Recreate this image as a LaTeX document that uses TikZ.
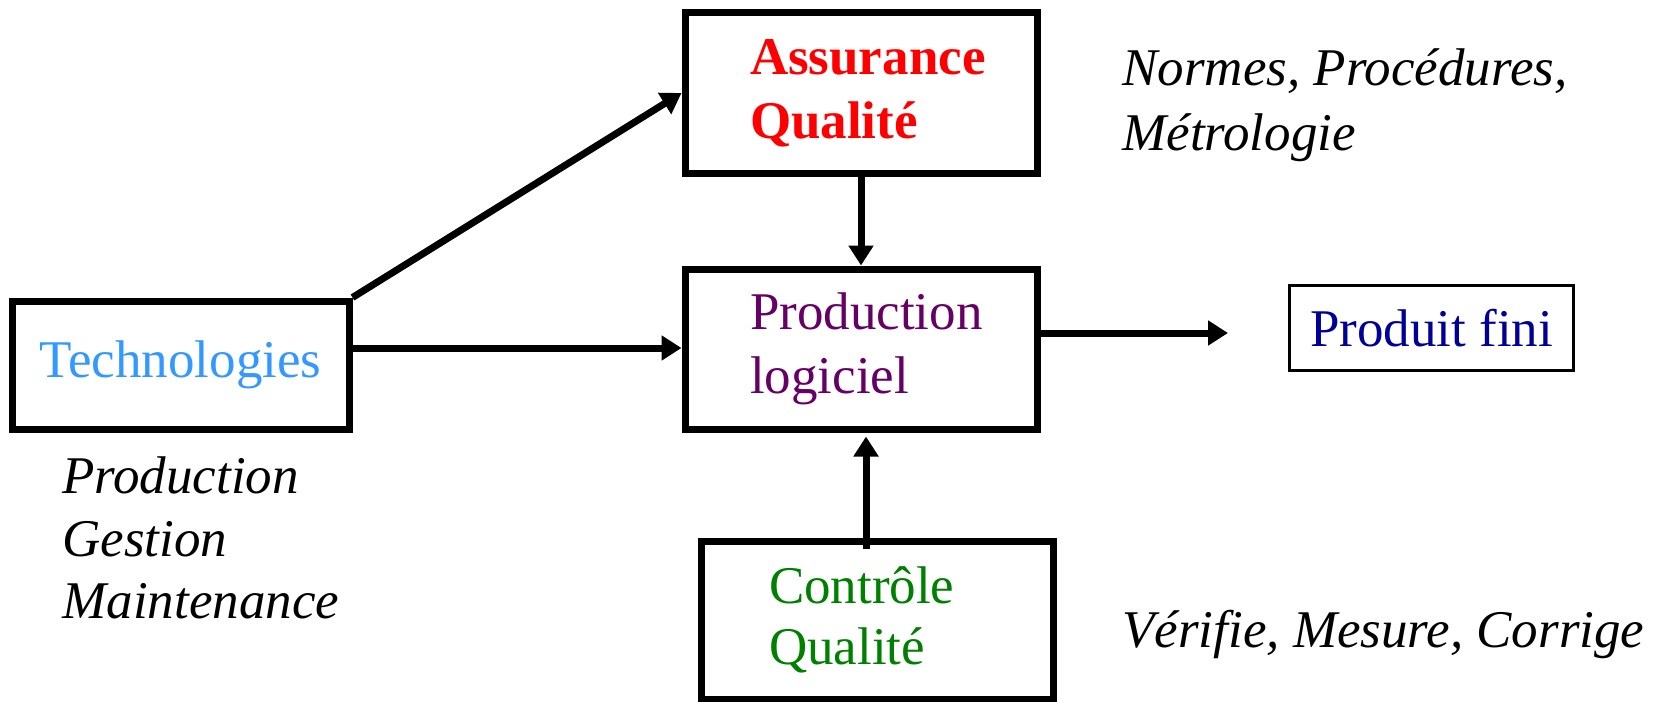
\documentclass[tikz,border=0pt]{standalone}
\usepackage{fontspec}
\setmainfont{Liberation Serif}
\usetikzlibrary{arrows.meta,calc}
\hyphenpenalty=10000
\exhyphenpenalty=10000
\definecolor{techblue}{HTML}{3399FF}
\definecolor{aqred}{HTML}{FF0000}
\definecolor{prodpurple}{HTML}{660066}
\definecolor{finiblue}{HTML}{000099}
\definecolor{cqgreen}{HTML}{008000}
\begin{document}
\begin{tikzpicture}[x=0.5pt,y=-0.5pt,
  txt/.style={font=\fontsize{26.5}{32}\selectfont},
  box/.style={txt, draw=black, line width=3.5pt, fill=white, inner ysep=0pt},
  bigbox/.style={box, minimum height=80pt, inner xsep=32.5pt, text width=111pt, align=left},
  lbl/.style={anchor=base west, inner sep=0pt, font=\fontsize{26.5}{32}\selectfont\itshape},
  arr/.style={line width=3.5pt, -{Triangle[length=10pt,width=12pt]}},
]
\useasboundingbox[fill=white] (0,0) rectangle (1664,701);

% boxes
\node[box, minimum width=168.5pt, minimum height=64pt, text=techblue] (tech) at (180.5,365) {Technologies};
\node[bigbox, text=aqred, font=\fontsize{26.5}{32}\selectfont\bfseries] (assur) at (861,93) {Assurance\\Qualité};
\node[bigbox, text=prodpurple] (prod) at (861,349) {Production\\logiciel};
\node[bigbox, minimum height=79pt, inner xsep=34pt, text width=108pt, text=cqgreen,
      font=\fontsize{26.5}{30.5}\selectfont] (ctrl) at (877,620) {Contrôle\\Qualité};
\node[box, line width=1.5pt, minimum width=142pt, minimum height=42.5pt, text=finiblue] (fini) at (1431.5,328) {Produit fini};

% side notes
\node[lbl] (nprod) at (62,493) {Production};
\node[lbl] (ngest) at (62,556) {Gestion};
\node[lbl] (nmaint) at (62,618) {Maintenance};
\node[lbl] (nnorm) at (1122,86) {Normes, Procédures,};
\node[lbl] (nmetro) at (1122,150) {Métrologie};
\node[lbl] (nverif) at (1122,647) {Vérifie, Mesure, Corrige};

% connectors
\draw[arr] (tech.north east) -- (assur.west);
\draw[arr] ([yshift=8.5pt]tech.east) -- ([yshift=8.5pt]tech.east -| prod.west);
\draw[arr] (assur.south) -- (prod.north);
\draw[arr, shorten >=2pt] ([xshift=-5.5pt,yshift=-5.5pt]ctrl.north) -- ([xshift=-5.5pt]ctrl.north |- prod.south);
\draw[arr, shorten >=30pt] ([yshift=8pt]prod.east) -- ([yshift=8pt]prod.east -| fini.west);
\end{tikzpicture}
\end{document}
